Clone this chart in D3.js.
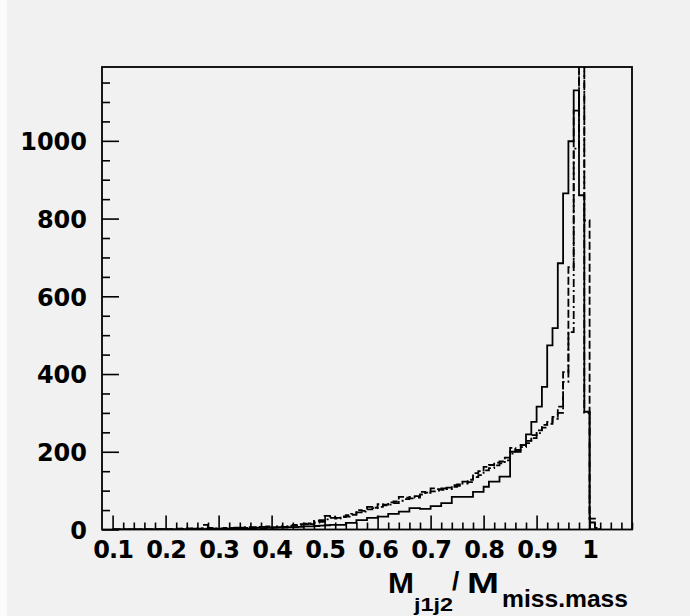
<!DOCTYPE html>
<html>
<head>
<meta charset="utf-8">
<script src="https://cdn.jsdelivr.net/npm/d3@7"></script>
<style>
  html, body { margin: 0; padding: 0; background: #f1f1f1; }
  svg { display: block; }
</style>
</head>
<body>
<svg id="chart" width="690" height="616"></svg>
<script>
// Histogram binning: 0.01-wide bins starting at 0.10
const binLow = 0.10;
const binWidth = 0.01;

// Entries per bin, bins 0.10 ... 1.01
const solidCounts = [
  0, 0, 0, 0, 0, 0, 0, 0, 0, 0,
  0, 0, 0, 1, 0, 1, 0, 1, 2, 1,
  1, 2, 1, 2, 3, 2, 3, 4, 3, 4,
  4, 5, 5, 6, 6, 7, 8, 8, 9, 10,
  11, 12, 12, 12, 17, 17, 24, 24, 30, 30,
  33, 33, 40, 40, 46, 46, 55, 55, 53, 53,
  60, 60, 68, 68, 84, 84, 84, 84, 97, 97,
  110, 123, 123, 136, 136, 200, 200, 217, 245, 277,
  316, 367, 474, 518, 685, 865, 999, 1130, 860, 303,
  0, 0
];
const dashedCounts = [
  0, 0, 0, 0, 0, 0, 0, 0, 1, 0,
  1, 0, 2, 1, 3, 1, 2, 12, 3, 2,
  3, 2, 4, 3, 5, 4, 6, 5, 7, 6,
  6, 8, 7, 10, 12, 14, 15, 14, 22, 24,
  35, 33, 30, 32, 37, 38, 50, 48, 58, 56,
  65, 64, 70, 72, 84, 82, 80, 86, 97, 95,
  106, 104, 102, 108, 114, 116, 123, 128, 145, 150,
  161, 166, 172, 175, 185, 210, 205, 217, 228, 243,
  255, 269, 277, 290, 316, 405, 675, 1078, 1450, 795,
  28, 4
];
const dashDotCounts = [
  0, 0, 0, 0, 0, 0, 0, 0, 0, 1,
  0, 1, 1, 2, 1, 2, 3, 2, 4, 3,
  2, 4, 3, 5, 4, 6, 5, 7, 6, 8,
  4, 6, 8, 7, 10, 11, 13, 16, 18, 20,
  26, 30, 28, 34, 33, 40, 44, 46, 52, 55,
  58, 62, 64, 68, 74, 78, 84, 82, 90, 94,
  98, 100, 106, 104, 110, 112, 118, 122, 135, 140,
  152, 158, 165, 170, 178, 195, 205, 212, 222, 235,
  248, 262, 272, 285, 300, 380, 508, 980, 1350, 300,
  18, 3
];

// Axis ranges and ticks
const xRange = [0.08, 1.08];
const yRange = [0, 1190];
const xMajorTicks = [0.1, 0.2, 0.3, 0.4, 0.5, 0.6, 0.7, 0.8, 0.9, 1.0];
const xTickLabels = ["0.1", "0.2", "0.3", "0.4", "0.5", "0.6", "0.7", "0.8", "0.9", "1"];
const yMajorTicks = [0, 200, 400, 600, 800, 1000];
const yTickLabels = ["0", "200", "400", "600", "800", "1000"];

const svg = d3.select("#chart");
const W = 690, H = 616;
const frame = { left: 102, right: 632, top: 67, bottom: 529.5 };

// Canvas: light grey pad with a thin white border strip on the left
svg.append("rect").attr("x", 0).attr("y", 0).attr("width", W).attr("height", H).attr("fill", "#f1f1f1");
svg.append("rect").attr("x", 0).attr("y", 0).attr("width", 7).attr("height", H).attr("fill", "#fbfbfb");

const x = d3.scaleLinear().domain(xRange).range([frame.left, frame.right]);
const y = d3.scaleLinear().domain(yRange).range([frame.bottom, frame.top]);

// Minor ticks: every 0.02 on x, every 50 on y
const xMinorTicks = d3.range(0.1, 1.08, 0.02).map(v => +v.toFixed(2))
  .filter(v => !xMajorTicks.some(m => Math.abs(m - v) < 1e-6));
const yMinorTicks = d3.range(0, 1190, 50).filter(v => v % 200 !== 0);

const tickFont = "'DejaVu Sans', 'Liberation Sans', sans-serif";

// Y axis (ticks drawn inward from the left frame edge)
const yMinor = svg.append("g").attr("transform", `translate(${frame.left},0)`)
  .call(d3.axisLeft(y).tickValues(yMinorTicks).tickSize(-8).tickFormat(""));
const yMajor = svg.append("g").attr("transform", `translate(${frame.left},0)`)
  .call(d3.axisLeft(y).tickValues(yMajorTicks).tickSize(-17).tickPadding(15)
    .tickFormat((d, i) => yTickLabels[i]));

// X axis (ticks drawn upward from the bottom frame edge)
const xMinor = svg.append("g").attr("transform", `translate(0,${frame.bottom})`)
  .call(d3.axisBottom(x).tickValues(xMinorTicks).tickSize(-7).tickFormat(""));
const xMajor = svg.append("g").attr("transform", `translate(0,${frame.bottom})`)
  .call(d3.axisBottom(x).tickValues(xMajorTicks).tickSize(-14).tickPadding(11)
    .tickFormat((d, i) => xTickLabels[i]));

[yMinor, yMajor, xMinor, xMajor].forEach(g => {
  g.select(".domain").remove();
  g.selectAll(".tick line").attr("stroke", "#000").attr("stroke-width", 1.6);
  g.selectAll(".tick text")
    .attr("fill", "#000")
    .style("font-family", tickFont)
    .style("font-weight", "bold")
    .style("font-size", "24px");
});
yMajor.selectAll(".tick text").attr("dy", "0.37em");
xMajor.selectAll(".tick text").attr("letter-spacing", "-1px");

// Clip histograms to the frame
svg.append("defs").append("clipPath").attr("id", "frameClip")
  .append("rect")
  .attr("x", frame.left).attr("y", frame.top)
  .attr("width", frame.right - frame.left).attr("height", frame.bottom - frame.top);

function histPoints(counts) {
  const pts = [{ e: binLow, v: 0 }];
  counts.forEach((c, i) => pts.push({ e: binLow + i * binWidth, v: c }));
  const lastEdge = binLow + counts.length * binWidth;
  pts.push({ e: lastEdge, v: counts[counts.length - 1] });
  pts.push({ e: lastEdge, v: 0 });
  return pts;
}

const stepLine = d3.line()
  .x(d => x(d.e))
  .y(d => y(d.v))
  .curve(d3.curveStepAfter);

const series = [
  { counts: dashDotCounts, dash: "8,3,2,3" },
  { counts: dashedCounts, dash: "8,3" },
  { counts: solidCounts, dash: null }
];

const histG = svg.append("g").attr("clip-path", "url(#frameClip)");
series.forEach(s => {
  histG.append("path")
    .attr("d", stepLine(histPoints(s.counts)))
    .attr("fill", "none")
    .attr("stroke", "#000")
    .attr("stroke-width", 1.8)
    .attr("stroke-dasharray", s.dash);
});

// Frame
svg.append("rect")
  .attr("x", frame.left).attr("y", frame.top)
  .attr("width", frame.right - frame.left).attr("height", frame.bottom - frame.top)
  .attr("fill", "none").attr("stroke", "#000").attr("stroke-width", 1.8);

// X axis title: M_{j1j2}/M_{miss.mass}
const titleFont = "'Liberation Sans', Arial, sans-serif";
const title = svg.append("g").attr("fill", "#000")
  .style("font-family", titleFont).style("font-weight", "bold");
title.append("text").attr("x", 388).attr("y", 593).style("font-size", "30px")
  .attr("textLength", 26).attr("lengthAdjust", "spacingAndGlyphs").text("M");
title.append("text").attr("x", 414).attr("y", 611).style("font-size", "19px")
  .attr("textLength", 39).attr("lengthAdjust", "spacingAndGlyphs").text("j1j2");
title.append("text").attr("x", 452).attr("y", 590).style("font-size", "26px")
  .text("/");
title.append("text").attr("x", 467).attr("y", 593).style("font-size", "30px")
  .attr("textLength", 32).attr("lengthAdjust", "spacingAndGlyphs").text("M");
title.append("text").attr("x", 502).attr("y", 607).style("font-size", "24px")
  .attr("textLength", 126).attr("lengthAdjust", "spacingAndGlyphs").text("miss.mass");
</script>
</body>
</html>
